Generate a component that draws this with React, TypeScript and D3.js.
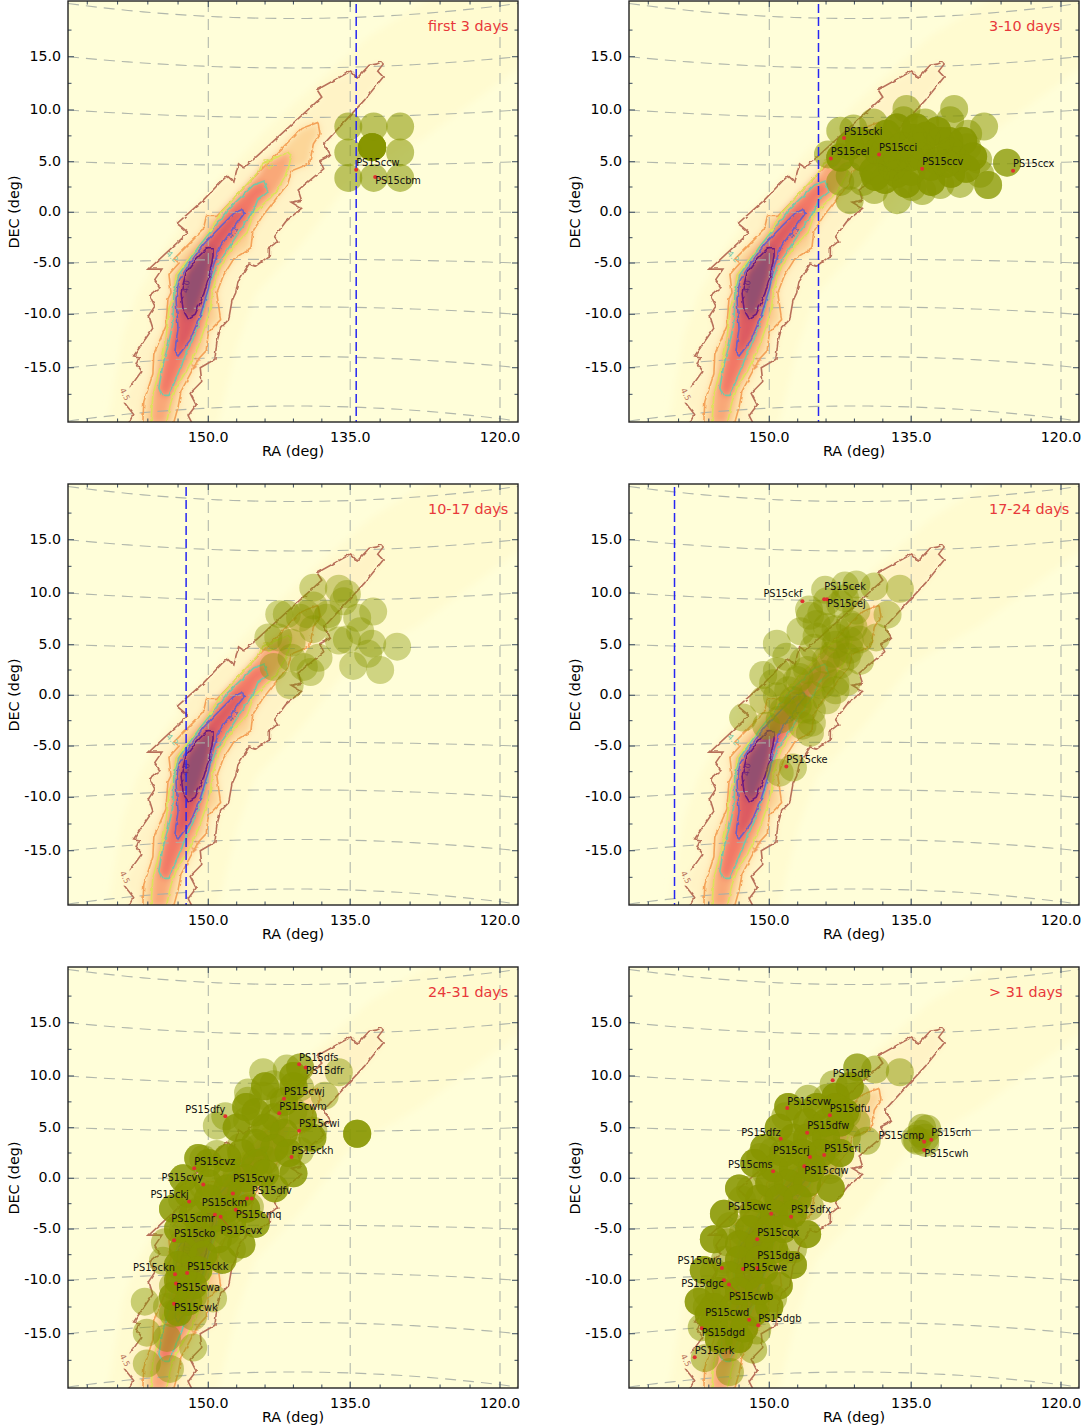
import React from 'react';
import * as d3 from 'd3';

// contours of the probability map, [RA, DEC]
const contour45Tail = [[157.9,-20.3],[157.4,-19.4],[158.4,-18.2]];
const contour45 = [[157.8,-16.9],[156.6,-15.3],[157.1,-14.7],[156.8,-14.0],[157.4,-13.9],[155.5,-11.3],[155.9,-10.1],[155.3,-9.2],[155.8,-8.2],[154.8,-7.4],[155.3,-6.6],[154.6,-5.6],[155.9,-5.6],[152.0,-2.0],[153.1,-1.1],[150.5,1.2],[148.7,3.0],[148.6,3.1],[148.0,3.6],[147.3,3.0],[146.9,4.4],[146.8,4.8],[146.2,4.4],[138.0,11.2],[138.5,11.9],[134.95,13.65],[134.3,13.0],[133.1,14.2],[132.4,14.3],[131.9,14.5],[131.7,14.3],[132.25,13.65],[131.7,13.1],[133.6,10.9],[137.8,6.7],[137.1,5.6],[138.2,5.1],[137.8,4.3],[140.5,2.2],[140.15,1.2],[141.25,1.0],[140.15,0.4],[141.8,-0.9],[143.0,-2.4],[142.65,-2.85],[143.55,-3.5],[143.55,-4.3],[145.0,-5.3],[145.7,-5.1],[146.9,-6.9],[147.1,-7.9],[147.5,-8.7],[147.85,-10.5],[148.7,-11.3],[149.1,-12.6],[149.3,-14.2],[150.8,-15.0],[150.65,-16.3],[151.8,-17.4],[151.2,-18.5],[152.0,-19.5],[151.5,-20.4]];
const contour44 = [[156.5,-20.4],[156.4,-18.2],[155.5,-15.6],[155.4,-13.7],[154.2,-11.1],[154.0,-8.5],[153.7,-7.9],[153.9,-6.1],[152.9,-5.0],[153.4,-4.6],[150.5,-1.7],[150.2,-0.4],[149.1,-0.4],[144.5,4.1],[140.2,8.2],[138.4,8.8],[138.2,7.7],[138.9,6.7],[139.3,4.8],[141.2,4.1],[141.6,2.8],[142.7,1.5],[144.3,-0.4],[145.3,-1.9],[145.5,-3.5],[147.3,-4.6],[148.4,-6.2],[149.1,-7.9],[148.7,-10.5],[150,-11.7],[150.2,-13.4],[151.0,-14.2],[151.8,-15.6],[152.7,-17.2],[153.0,-18.7],[153.5,-20.4]];
const contour43 = [[155.7,-20.4],[155.5,-17.6],[154.7,-14.7],[154.2,-12.4],[153.9,-9.5],[153.4,-7.9],[153.2,-6.2],[152.0,-4.6],[150.5,-2.8],[148.7,-0.1],[144.6,4.1],[144.3,4.8],[141.6,5.9],[141.2,5.6],[141.6,4.1],[142.7,2.2],[143.4,1.5],[145.2,-0.1],[145.9,-2.0],[147.3,-3.3],[148.7,-5.3],[149.5,-7.5],[149.8,-9.5],[150.3,-11.1],[151.0,-13.0],[152.0,-15.0],[153.2,-16.9],[153.7,-18.2],[154.2,-20.4]];
const contour42 = [[154.6,-17.6],[154.9,-16.9],[154.5,-14.7],[154.0,-13.0],[153.5,-10.8],[153.4,-7.9],[152.9,-6.1],[150.8,-3.2],[148.7,-0.7],[148.0,0.2],[145.2,2.7],[144.1,3.1],[143.7,2.0],[144.8,1.2],[145.2,0.2],[146.6,-1.7],[147.7,-3.3],[149.1,-5.3],[149.8,-6.9],[150.5,-9.5],[151.2,-11.7],[152.2,-13.7],[152.9,-15.3],[153.9,-17.6]];
const contour41 = [[153.0,-13.9],[153.3,-13.4],[153.0,-11.3],[153.2,-8.5],[152.9,-6.7],[151.8,-5.0],[150.5,-3.2],[148.7,-1.4],[147.3,-0.1],[146.4,0.3],[146.2,-0.1],[147.0,-1.1],[148.7,-3.3],[149.5,-5.3],[150,-7.5],[150.8,-10.1],[151.8,-12.4]];
const contour40 = [[152.0,-10.4],[152.5,-9.6],[152.7,-7.9],[152.2,-5.9],[151.2,-4.6],[150.1,-3.5],[149.5,-3.5],[149.5,-4.3],[149.9,-6.2],[150.5,-8.2],[151.3,-10.0]];
const paleBand = [[160,-20.4],[158.5,-12],[157,-8],[154,-3],[150,2],[144,8],[138,13],[133,17],[127,20.5],[118,20.5],[118,14],[128,7],[135,3],[140,-3],[145,-8],[147,-13],[149,-20.4]];

// fields per period, [RA, DEC]
const fields1 = [[135.2,8.4],[132.65,8.4],[130.0,8.4],[135.2,5.9],[130.0,5.9],[135.2,3.4],[132.65,3.4],[130.0,3.4],[132.8,6.4],[132.8,6.4],[132.8,6.4],[132.8,6.4],[132.8,6.4],[132.8,6.4]];
const fields2 = [[142.5,8.0],[143.8,5.7],[142.5,3.0],[141.5,1.2],[139,8.8],[141.1,8.2],[135.5,10.1],[135.8,9.0],[133.6,8.8],[130.7,10.1],[131.1,9.0],[127.7,8.4],[129.3,7.7],[129.4,6.4],[128.3,5.2],[125.4,4.9],[125.4,4.9],[127.3,2.7],[127.3,2.7],[130.1,2.8],[132.1,2.7],[133.9,2.1],[134.9,2.5],[136.5,1.2],[138.9,2.2],[140.1,3.0],[141.5,3.6],[128.1,3.8]];
const core2 = [[137.6,7.7],[134.8,7.3],[132.4,8.0],[130.4,5.1],[132.4,5.1],[135.1,5.4],[137.6,5.4],[140.1,5.4],[142.5,5.4],[132.1,7.0],[136.5,3.8],[139,4.1],[138.2,6.9],[136,6.5],[134,6.5],[131,6.0],[139.5,6.8],[137,4.5],[135,4],[133,4.5],[131,3.8],[129.5,4.3],[140.5,7],[136.5,8.3],[134,5.5],[134.5,8.3],[131.2,7],[137.8,3.2],[135.5,2.8],[133,3],[138.5,6],[136.5,5.5],[141.5,6.5],[129.8,7],[128.8,5.5],[138.8,3.5],[131.5,4.8],[133.5,7.5]];
const fields3 = [[138.9,10.5],[136.2,10.4],[135.35,9.9],[142.5,7.95],[141.7,7.95],[139.6,7.95],[137.3,7.95],[134.3,7.6],[132.7,8.2],[143.65,5.7],[142.6,5.7],[141.2,5.2],[138.9,6.5],[135.35,5.5],[136.2,5.4],[134.0,6.3],[132.8,5.1],[130.3,4.8],[132.0,2.5],[134.7,2.9],[139.2,2.3],[139.9,2.8],[143.1,2.8],[141.4,1.0],[138.35,3.7],[141.2,3.7],[133.2,4.1],[140.3,7.6],[135.7,9.2],[138.9,8.8],[137.5,7.6]];
const fields4 = [[136.2,10.4],[138.9,10.6],[140.8,10.8],[142.0,10.7],[144.1,10.3],[145.8,8.4],[143.9,9.2],[140.8,8.3],[137.5,7.9],[138.7,5.7],[140.4,3.4],[141.8,1.3],[143.0,1.2],[143.9,-0.5],[145.7,-3.7],[145.5,-2.7],[146.4,-1.4],[149.2,5.1],[146.7,6.3],[148.2,3.8],[150.6,2.0],[149.2,2.4],[146.4,3.4],[145.7,7.8],[143.2,4.1],[141.5,5.4],[143.9,6.7],[141.1,6.7],[142.5,8.9],[145.3,4.7],[147.1,1.5],[149.6,1.2],[149.2,-0.1],[150.6,-0.5],[147.5,-0.5],[152.6,-2.2],[150.3,-3.0],[148.9,-2.4],[147.5,-7.1],[148.9,-7.6],[146.8,1.8],[144.3,2.1],[142.9,5.7],[145.0,7.0],[141.8,3.8],[145,5.8],[143,5],[141.5,4.5],[144,3.5],[142.5,3],[146,2.5],[144.5,1],[143,0.5],[145.5,0],[147,-1],[145.5,-1.5],[148.5,-1.5],[146.5,-3],[143,6.5],[141.5,7],[144.5,8],[142,9.5],[148,0.5],[140.5,5.5]];
const fields5 = [[144.2,10.35],[141.7,10.7],[140.3,10.8],[140.3,10.8],[136.2,10.35],[145.8,8.4],[143.1,9.2],[137.7,8.1],[145.8,7.6],[144.2,8.1],[149.1,5.2],[148.2,6.1],[140.3,8.9],[141.0,6.6],[142.4,7.6],[138.9,4.7],[134.3,4.4],[134.3,4.4],[134.3,4.4],[134.3,4.4],[140.3,2.7],[142.8,1.5],[144.7,0.6],[150.5,1.9],[149.1,2.4],[146.6,3.1],[144.6,3.1],[145.9,5.7],[143.8,5.0],[141.7,3.7],[143.8,1.8],[147.0,0.5],[150.5,-0.8],[152.6,-2.1],[150.8,-3.1],[148.4,-1.8],[145.6,-2.8],[147.4,-4.0],[148.1,-5.3],[147.5,-7.0],[152.5,-5.0],[154.3,-6.3],[154.5,-8.1],[150.8,-4.7],[151.5,-6.3],[152.1,-8.0],[153.5,-10.5],[149.5,-11.7],[156.3,-12.0],[154.1,-12.5],[151.5,-13.4],[156.1,-14.9],[154.1,-15.4],[151.5,-16.3],[156.1,-17.8],[153.8,-18.3],[151.5,-8.9],[152.8,-9.9],[151.5,-11.5],[153.5,-13.1]];
const core5 = [[143,6],[144,5],[142,4.5],[145,3.5],[143,3],[141.5,2.5],[146.5,2.5],[145,1.5],[148,2],[150,1.5],[148,0.5],[146,0],[144,0.5],[150,-0.5],[148,-1],[146.5,-1.5],[152,-1.5],[150,-2],[148,-3],[146,-3],[151.5,-3.5],[149.5,-4],[147.5,-4.5],[153,-5],[151,-5.5],[149,-6],[152.5,-7],[150.5,-7.5],[153,-8.5],[151,-9],[153,-10],[151.5,-10.5],[153.5,-11.5],[152,-12],[153,-13],[145,6.5],[142,7.5],[141,9],[141,10],[151,2],[152.5,0],[153.5,-3],[146,7],[144,9],[147,5],[140,6],[139,4],[141,0.5],[143,-1],[145,-4.5],[146.5,-6.5],[148.5,-8]];
const fields6 = [[140.7,10.8],[140.7,10.8],[138.8,10.6],[136.2,10.35],[143.2,9.2],[140.8,8.1],[145.9,7.8],[143.9,7.9],[148.3,6.1],[146.8,6.5],[145.0,5.0],[141.8,6.3],[140.8,5.5],[139.7,3.7],[141.8,4.1],[149.6,2.7],[150.9,2.1],[147.5,3.1],[143.9,3.1],[146.0,2.1],[143.6,0.8],[150.3,0.5],[147.5,0.5],[151.9,-1.1],[152.7,-2.1],[149.2,-1.8],[145.7,-2.8],[151.6,-3.4],[147.8,-3.4],[153.9,-4.7],[152.6,-5.3],[154.2,-6.3],[150.3,-5.0],[147.5,-7.0],[149.2,-7.6],[151.6,-7.3],[154.4,-8.0],[155.5,-9.2],[152.9,-9.2],[156.2,-11.2],[154.2,-11.5],[149.6,-11.7],[152.2,-11.2],[156.2,-12.5],[156.7,-14.4],[155.5,-14.1],[153.6,-13.4],[151.2,-14.7],[151.6,-16.5],[153.9,-16.3],[156.4,-17.3],[153.9,-18.6],[133.9,5.0],[133.4,4.9],[134.6,3.9],[133.6,3.5],[134.4,3.7],[134.0,4.4],[133.6,4.0]];
const core6 = [[141.5,9],[143,8],[145,7],[143,7],[146,5.5],[144,5.5],[142.5,5.5],[147.5,4],[146,4],[144,4],[148.5,2.5],[146.5,2.5],[144.5,2.5],[149.5,1],[147.5,1],[145.5,1],[150,-0.5],[148,-0.5],[146,-0.5],[151,-2],[149,-2],[147,-2],[151.5,-3.5],[149.5,-3.5],[147.5,-3.5],[152,-5],[150,-5],[148.5,-5],[153,-6.5],[151,-6.5],[153,-8],[151,-8],[149.5,-7],[154,-9.5],[152,-9.5],[150.5,-9],[155,-11],[153,-11],[151,-11],[155.5,-12.5],[153.5,-12.5],[155.5,-14],[153.5,-14],[151.5,-13],[155,-15.5],[153,-15.5],[156,-13.2],[152.5,-14.5],[148,7],[149,5],[150.5,3],[151.5,1.5],[153,-1],[154.5,-3.5],[155.5,-6],[156.5,-9],[157,-12],[142,6.5],[142.5,2.5],[143.5,-1],[146,-5.5],[147.5,-8.5],[149,-10.5],[150,-12.5]];

// supernova candidates per period, [name, RA, DEC]
const sn1 = [['PS15ccw',134.4,4.2],['PS15cbm',132.5,3.5]];
const sn2 = [['PS15cki',142.1,7.3],['PS15cel',143.5,5.3],['PS15cci',138.4,5.7],['PS15ccv',133.9,4.3],['PS15ccx',124.8,4.1]];
const sn3: any[] = [];
const sn4 = [['PS15ckf',146.5,9.2],['PS15cek',144.2,9.4],['PS15cej',143.9,9.4],['PS15cke',148.2,-7.0]];
const sn5 = [['PS15dfs',140.4,11.1],['PS15dfr',139.7,10.8],['PS15cwj',142.0,7.8],['PS15cwm',142.5,6.4],['PS15dfy',148.2,6.1],['PS15cwi',140.4,4.7],['PS15ckh',141.2,2.1],['PS15cvz',151.4,1.0],['PS15cvy',150.5,-0.6],['PS15ckj',151.9,-2.3],['PS15cvv',147.4,-1.5],['PS15dfv',145.4,-2.0],['PS15ckm',145.9,-2.0],['PS15cmq',147.1,-3.1],['PS15cmr',149.3,-3.6],['PS15cvx',148.7,-3.8],['PS15cko',153.4,-6.1],['PS15ckn',153.3,-9.4],['PS15ckk',152.1,-9.3],['PS15cwa',153.2,-10.3],['PS15cwk',153.4,-12.2]];
const sn6 = [['PS15dft',143.3,9.6],['PS15cvw',148.1,6.9],['PS15dfu',143.6,6.2],['PS15dfw',146.0,4.5],['PS15dfz',148.8,3.9],['PS15crj',145.7,2.1],['PS15cri',144.2,2.3],['PS15cqw',146.3,1.2],['PS15cms',149.6,0.7],['PS15cwc',149.8,-3.5],['PS15dfx',147.7,-3.8],['PS15cqx',151.2,-6.0],['PS15dga',151.2,-8.8],['PS15cwe',152.6,-8.9],['PS15cwg',154.7,-8.8],['PS15dgc',154.5,-10.0],['PS15cwb',154.0,-10.4],['PS15cwd',152.0,-13.7],['PS15dgb',151.1,-14.2],['PS15dgd',156.7,-14.5],['PS15crk',157.4,-17.2],['PS15cmp',133.7,3.6],['PS15crh',133.0,3.8],['PS15cwh',133.7,2.8]];

const periodNames = ['first 3 days', '3-10 days', '10-17 days', '17-24 days', '24-31 days', '> 31 days'];
const bluePositions = [134.4, 144.8, 152.2, 159.4, null, null];
const raTicks = [150, 135, 120];
const raMinorTicks = [162, 159, 156, 153, 147, 144, 141, 138, 132, 129, 126, 123];
const decTicks = [15, 10, 5, 0, -5, -10, -15];
const decMinorTicks = [17.5, 12.5, 7.5, 2.5, -2.5, -7.5, -12.5, -17.5];
const parallels = [20, 15, 10, 5, 0, -5, -10, -15, -20];
const contourLabels = [
  ['4.5', 158.3, -17.5, 62, '#b8705a'],
  ['4.4', 151.2, -14.6, -62, '#f0a060'],
  ['4.3', 143.7, 4.8, 50, '#d8dc50'],
  ['4.2', 153.6, -4.4, 45, '#78c8a8'],
  ['4.1', 147.4, -2.0, -60, '#6a60c0'],
  ['4.0', 152.2, -7.3, -80, '#6a2080'],
];

// text placement of the candidate labels, px from the dot
const defaultNudge = [0, -6.4];
const nudges: Record<string, number[]> = {
  PS15cbm: [0, 4.3], PS15ckf: [-39, -7], PS15cek: [0, -12.3], PS15cej: [0, 5],
  PS15dfr: [0, 4], PS15dfy: [-40, -6.7], PS15cvy: [-41.7, -6.7], PS15ckj: [-38.7, -6.3], PS15cvv: [0, -14.3],
  PS15dfv: [0, -7.3], PS15ckm: [-45.3, 4.7], PS15cmq: [0, 5.7], PS15cmr: [-43.7, 4], PS15cvx: [0, 14.3],
  PS15ckn: [-42, -6.3], PS15cwa: [0, 4.3], PS15cwk: [0, 4.7],
  PS15dfz: [-39.3, -6.3], PS15crj: [-37, -6.3], PS15cqw: [0, 4.7], PS15cms: [-45, -6.7], PS15cwc: [-43.3, -6.7],
  PS15dga: [0, -12.3], PS15cwe: [0, -0.7], PS15cwg: [-44.3, -6.7], PS15dgc: [-42.7, 4], PS15cwb: [0, 12],
  PS15cwd: [-44, -6.7], PS15dgd: [0, 4.3], PS15cmp: [-45.7, -6.3], PS15cwh: [0, 4.3],
};
const leaders = ['PS15cbm', 'PS15cmq', 'PS15cvx', 'PS15ckm', 'PS15cwb', 'PS15cmp'];

const panels = [
  { fields: fields1, sn: sn1, alpha: 0.55, ox: 0, oy: 0 },
  { fields: [...fields2, ...core2, ...core2, ...core2], sn: sn2, alpha: 0.52, ox: 561, oy: 0 },
  { fields: fields3, sn: sn3, alpha: 0.4, ox: 0, oy: 483 },
  { fields: fields4, sn: sn4, alpha: 0.42, ox: 561, oy: 483 },
  { fields: [...fields5, ...core5, ...core5, ...core5], sn: sn5, alpha: 0.45, ox: 0, oy: 966 },
  { fields: [...fields6, ...core6, ...core6, ...core6], sn: sn6, alpha: 0.5, ox: 561, oy: 966 },
];

const left = 68, right = 518, top = 1, bottom = 422;
const font = '"DejaVu Sans", sans-serif';

const x = d3.scaleLinear().domain([162, ...raTicks]).range([87.3, 208.3, 350.2, 500]);
const y = d3.scaleLinear().domain([20, ...decTicks, -20]).range([3.5, 56.7, 110, 161.7, 212.3, 263, 314.3, 367.7, 421]);
const poly = d3.line<number[]>().x(d => x(d[0])).y(d => y(d[1]));
const lineXY = d3.line<number[]>().x(d => d[0]).y(d => d[1]);

// parallels bow towards the equator, reaching the tick only at the frame
const parallelPath = (dec: number) => {
  const mid = (left + right) / 2;
  const pts = d3.range(left, right + 1, 15).map(px => {
    const t = (px - mid) / ((right - left) / 2);
    return [px, y(dec) + 0.75 * dec * (1 - t * t)];
  });
  return lineXY(pts) as string;
};

const heat = [
  { pts: paleBand, fill: '#fffbd0' },
  { pts: [...contour45Tail, ...contour45], fill: '#fff3c6' },
  { pts: contour44, fill: '#fcd698' },
  { pts: contour43, fill: '#f9a878' },
  { pts: contour42, fill: '#f27866' },
  { pts: contour41, fill: '#dc5a62' },
  { pts: contour40, fill: '#94506f' },
];
const strokes = [
  { pts: contour45Tail, color: '#b8705a', closed: false },
  { pts: contour45, color: '#b8705a', closed: false },
  { pts: contour44, color: '#f4a258', closed: false },
  { pts: contour43, color: '#dde25a', closed: false },
  { pts: contour42, color: '#74c8a8', closed: true },
  { pts: contour41, color: '#6a60c8', closed: true },
  { pts: contour40, color: '#6a1a80', closed: true },
];

function Panel({ panel, name, blue }: any) {
  const ticks = (list: number[], len: number) => list.map(d => (
    <g key={'x' + d}>
      <line x1={x(d)} x2={x(d)} y1={bottom} y2={bottom - len} />
      <line x1={x(d)} x2={x(d)} y1={top} y2={top + len} />
    </g>
  ));
  const yticks = (list: number[], len: number) => list.map(d => (
    <g key={'y' + d}>
      <line x1={left} x2={left + len} y1={y(d)} y2={y(d)} />
      <line x1={right} x2={right - len} y1={y(d)} y2={y(d)} />
    </g>
  ));
  return (
    <g transform={`translate(${panel.ox},${panel.oy})`} fontFamily={font}>
      <rect x={left} y={top} width={right - left} height={bottom - top} fill="#fffed9" />
      <g clipPath="url(#frame)">
        <g filter="url(#smooth)">
          {heat.map((h, i) => <path key={i} d={poly(h.pts) + 'Z'} fill={h.fill} />)}
        </g>
        <g fill="none" stroke="#a9afa6" strokeWidth={1.1} strokeDasharray="11 7" strokeOpacity={0.9}>
          {parallels.map(d => <path key={d} d={parallelPath(d)} />)}
          {raTicks.map(d => <line key={d} x1={x(d)} x2={x(d)} y1={top} y2={bottom} />)}
        </g>
        <g fill="none" strokeWidth={1.6} filter="url(#rough)">
          {strokes.map((s, i) => <path key={i} d={poly(s.pts) + (s.closed ? 'Z' : '')} stroke={s.color} />)}
        </g>
        {contourLabels.map(([t, ra, dec, rot, c]: any) => (
          <text key={t} x={x(ra)} y={y(dec)} fontSize={8} fill={c} textAnchor="middle" dominantBaseline="middle"
            transform={`rotate(${rot},${x(ra)},${y(dec)})`}>{t}</text>
        ))}
        {panel.fields.map((f: number[], i: number) => (
          <circle key={i} cx={x(f[0])} cy={y(f[1])} r={14} fill="#879600" fillOpacity={panel.alpha} />
        ))}
        {blue !== null && (
          <line x1={x(blue)} x2={x(blue)} y1={top + 3} y2={bottom} stroke="#2626f2" strokeWidth={1.5} strokeDasharray="9 4" />
        )}
      </g>
      {panel.sn.map(([n, ra, dec]: any) => {
        const [dx, dy] = nudges[n] || defaultNudge;
        return (
          <g key={n}>
            {leaders.includes(n) && (
              <line x1={x(ra)} y1={y(dec)} x2={x(ra) + (dx < 0 ? dx + 38 : dx + 12)} y2={y(dec) + dy} stroke="#e03030" strokeWidth={0.6} />
            )}
            <circle cx={x(ra)} cy={y(dec)} r={2} fill="#e03030" />
            <text x={x(ra) + dx} y={y(dec) + dy} fontSize={9.8} fill="#111" dominantBaseline="middle">{n}</text>
          </g>
        );
      })}
      <text x={428} y={27} fontSize={14.4} fill="#e8383a" dominantBaseline="middle">{name}</text>
      <g stroke="#4a5a6a" strokeWidth={1.1}>
        {ticks(raMinorTicks, 3.5)}
        {ticks(raTicks, 6)}
        {yticks(decMinorTicks, 3.5)}
        {yticks(decTicks, 6)}
      </g>
      <rect x={left} y={top} width={right - left} height={bottom - top} fill="none" stroke="#222" strokeWidth={1.4} />
      {raTicks.map(d => (
        <text key={d} x={x(d)} y={438} fontSize={14.2} fill="#000" textAnchor="middle" dominantBaseline="middle">{d.toFixed(1)}</text>
      ))}
      {decTicks.map(d => (
        <text key={d} x={61} y={y(d)} fontSize={14.2} fill="#000" textAnchor="end" dominantBaseline="middle">{d.toFixed(1)}</text>
      ))}
      <text x={293} y={452} fontSize={14.4} textAnchor="middle" dominantBaseline="middle">RA (deg)</text>
      <text x={15} y={212} fontSize={14.4} textAnchor="middle" dominantBaseline="middle" transform="rotate(-90,15,212)">DEC (deg)</text>
    </g>
  );
}

export default function App() {
  return (
    <svg width={1084} height={1428} style={{ position: 'absolute', left: 0, top: 0 }}>
      <defs>
        <clipPath id="frame"><rect x={left} y={top} width={right - left} height={bottom - top} /></clipPath>
        <filter id="smooth" x="-10%" y="-10%" width="120%" height="120%"><feGaussianBlur stdDeviation={3.5} /></filter>
        <filter id="rough" x="-5%" y="-5%" width="110%" height="110%" colorInterpolationFilters="sRGB">
          <feTurbulence type="fractalNoise" baseFrequency={0.2} numOctaves={1} seed={3} result="noise" />
          <feDisplacementMap in="SourceGraphic" in2="noise" scale={3.5} xChannelSelector="R" yChannelSelector="G" />
          <feGaussianBlur stdDeviation={0.3} />
        </filter>
      </defs>
      {panels.map((p, i) => <Panel key={i} panel={p} name={periodNames[i]} blue={bluePositions[i]} />)}
    </svg>
  );
}
